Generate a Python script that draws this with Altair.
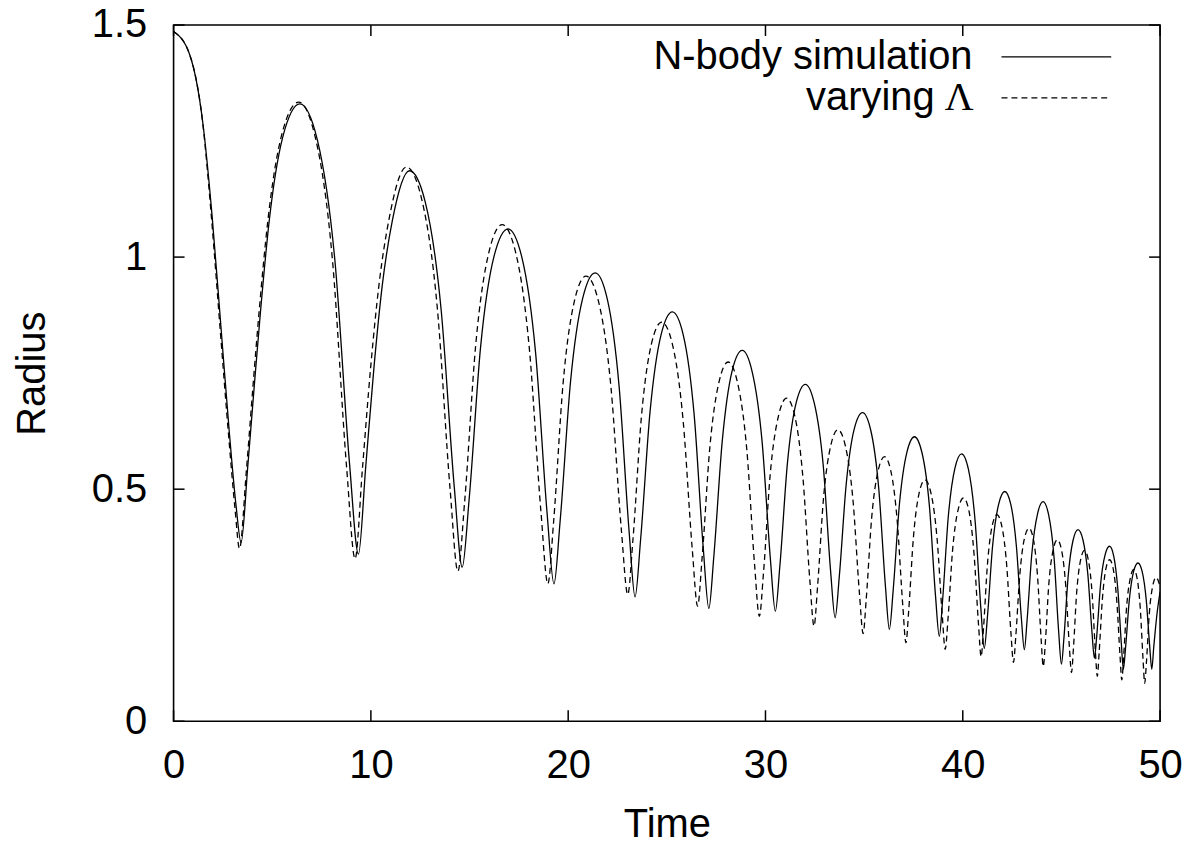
import altair as alt
import pandas as pd

SERIES = ["N-body simulation", "varying", "Λ"]
X_LABEL = "Time"
Y_LABEL = "Radius"
X_TICKS = [0, 10, 20, 30, 40, 50]
Y_TICKS = [0, 0.5, 1, 1.5]

NBODY_T = [
    0, 0.81, 1.48, 1.95, 2.40, 2.83, 3.17, 3.42,
    3.76, 4.10, 4.40, 4.85, 5.53, 6.40,
    7.29, 8.18, 8.92, 9.37,
    9.74, 10.16, 10.58, 11.09, 11.96,
    12.76, 13.56, 14.23, 14.63,
    14.98, 15.56, 16.25, 16.95,
    17.65, 18.35, 18.93, 19.28,
    19.59, 20.12, 20.74, 21.37,
    21.98, 22.58, 23.09, 23.39,
    23.67, 24.15, 24.71, 25.28,
    25.84, 26.39, 26.85, 27.13,
    27.38, 27.81, 28.31, 28.82,
    29.32, 29.83, 30.25, 30.50,
    30.73, 31.11, 31.56, 32.02,
    32.47, 32.93, 33.30, 33.53,
    33.74, 34.09, 34.50, 34.92,
    35.33, 35.74, 36.08, 36.28,
    36.47, 36.79, 37.17, 37.55,
    37.93, 38.31, 38.62, 38.81,
    38.98, 39.26, 39.60, 39.94,
    40.29, 40.63, 40.92, 41.09,
    41.25, 41.51, 41.82, 42.13,
    42.43, 42.72, 42.97, 43.12,
    43.26, 43.50, 43.79, 44.07,
    44.35, 44.63, 44.86, 45.00,
    45.13, 45.34, 45.59, 45.84,
    46.09, 46.34, 46.55, 46.67,
    46.79, 46.98, 47.21, 47.44,
    47.65, 47.86, 48.04, 48.14,
    48.25, 48.44, 48.66, 48.88,
    49.09, 49.30, 49.48, 49.58,
    49.68, 49.84, 50.0,
]
NBODY_R = [
    1.486, 1.437, 1.290, 1.090, 0.850, 0.620, 0.463, 0.385,
    0.549, 0.728, 0.880, 1.079, 1.258, 1.330,
    1.252, 0.991, 0.554, 0.360,
    0.549, 0.764, 0.940, 1.079, 1.186,
    1.118, 0.887, 0.503, 0.332,
    0.478, 0.806, 1.003, 1.061,
    1.000, 0.793, 0.449, 0.296,
    0.430, 0.732, 0.912, 0.966,
    0.910, 0.722, 0.408, 0.268,
    0.391, 0.667, 0.833, 0.882,
    0.831, 0.658, 0.371, 0.243,
    0.354, 0.604, 0.755, 0.799,
    0.754, 0.602, 0.349, 0.237,
    0.335, 0.555, 0.687, 0.726,
    0.686, 0.550, 0.324, 0.223,
    0.311, 0.510, 0.630, 0.665,
    0.628, 0.502, 0.291, 0.198,
    0.281, 0.468, 0.580, 0.613,
    0.579, 0.463, 0.269, 0.183,
    0.262, 0.438, 0.545, 0.576,
    0.542, 0.429, 0.241, 0.157,
    0.225, 0.377, 0.468, 0.495,
    0.468, 0.376, 0.222, 0.154,
    0.218, 0.361, 0.447, 0.473,
    0.445, 0.351, 0.193, 0.123,
    0.181, 0.312, 0.390, 0.413,
    0.391, 0.316, 0.191, 0.136,
    0.184, 0.293, 0.358, 0.377,
    0.356, 0.284, 0.165, 0.112,
    0.158, 0.261, 0.323, 0.341,
    0.323, 0.261, 0.158, 0.112,
    0.160, 0.230, 0.279,
]

VARY_T = [
    0, 0.81, 1.48, 1.92, 2.36, 2.80, 3.12, 3.34,
    3.69, 4.03, 4.33, 4.78, 5.46, 6.34,
    7.20, 8.06, 8.77, 9.20,
    9.57, 9.99, 10.41, 10.93, 11.80,
    12.58, 13.37, 14.02, 14.41,
    14.75, 15.31, 15.98, 16.65,
    17.35, 18.04, 18.62, 18.97,
    19.26, 19.74, 20.32, 20.90,
    21.54, 22.17, 22.70, 23.02,
    23.28, 23.71, 24.22, 24.74,
    25.29, 25.83, 26.29, 26.56,
    26.79, 27.18, 27.65, 28.11,
    28.58, 29.06, 29.45, 29.69,
    29.90, 30.24, 30.66, 31.07,
    31.49, 31.90, 32.25, 32.46,
    32.64, 32.94, 33.31, 33.67,
    34.05, 34.44, 34.76, 34.95,
    35.11, 35.38, 35.71, 36.03,
    36.36, 36.68, 36.96, 37.12,
    37.26, 37.50, 37.79, 38.08,
    38.39, 38.70, 38.96, 39.11,
    39.25, 39.48, 39.76, 40.04,
    40.31, 40.57, 40.80, 40.93,
    41.05, 41.25, 41.49, 41.73,
    41.98, 42.23, 42.44, 42.57,
    42.69, 42.89, 43.12, 43.36,
    43.58, 43.79, 43.97, 44.08,
    44.19, 44.36, 44.58, 44.79,
    45.01, 45.22, 45.40, 45.51,
    45.61, 45.77, 45.97, 46.17,
    46.37, 46.56, 46.72, 46.82,
    46.91, 47.07, 47.25, 47.44,
    47.63, 47.81, 47.97, 48.06,
    48.15, 48.30, 48.49, 48.67,
    48.84, 49.00, 49.14, 49.22,
    49.31, 49.45, 49.63, 49.80,
    50.0,
]
VARY_R = [
    1.486, 1.437, 1.288, 1.085, 0.845, 0.610, 0.455, 0.372,
    0.540, 0.725, 0.880, 1.079, 1.260, 1.334,
    1.255, 0.990, 0.547, 0.350,
    0.543, 0.763, 0.940, 1.084, 1.194,
    1.124, 0.889, 0.497, 0.323,
    0.472, 0.809, 1.010, 1.070,
    1.008, 0.799, 0.451, 0.296,
    0.429, 0.727, 0.906, 0.959,
    0.904, 0.719, 0.410, 0.273,
    0.390, 0.655, 0.813, 0.860,
    0.811, 0.646, 0.370, 0.248,
    0.353, 0.590, 0.732, 0.774,
    0.730, 0.582, 0.336, 0.226,
    0.320, 0.532, 0.658, 0.696,
    0.657, 0.524, 0.303, 0.205,
    0.290, 0.480, 0.594, 0.628,
    0.593, 0.474, 0.277, 0.189,
    0.265, 0.437, 0.540, 0.570,
    0.538, 0.430, 0.249, 0.169,
    0.239, 0.397, 0.492, 0.520,
    0.491, 0.392, 0.228, 0.155,
    0.220, 0.367, 0.455, 0.481,
    0.454, 0.361, 0.207, 0.139,
    0.200, 0.338, 0.421, 0.445,
    0.420, 0.334, 0.191, 0.127,
    0.185, 0.315, 0.393, 0.416,
    0.392, 0.312, 0.178, 0.118,
    0.173, 0.295, 0.369, 0.391,
    0.368, 0.291, 0.162, 0.105,
    0.158, 0.276, 0.347, 0.368,
    0.346, 0.273, 0.151, 0.097,
    0.147, 0.260, 0.328, 0.348,
    0.327, 0.257, 0.141, 0.089,
    0.137, 0.244, 0.308, 0.327,
    0.307, 0.241, 0.131, 0.082,
    0.128, 0.230, 0.292, 0.310,
    0.290,
]

W, H = 989, 698
FONT = "Liberation Sans"
FS = 40
TICK = 11

nbody = pd.DataFrame({"time": NBODY_T, "radius": NBODY_R})
vary = pd.DataFrame({"time": VARY_T, "radius": VARY_R})
xt = pd.DataFrame({"time": X_TICKS})
yt = pd.DataFrame({"radius": Y_TICKS})
one = pd.DataFrame({"k": [0]})

xs = alt.Scale(domain=[0, 50], nice=False, zero=False)
ys = alt.Scale(domain=[0, 1.5], nice=False, zero=False)

x_axis = alt.Axis(
    values=X_TICKS, labelExpr="'' + datum.value", grid=False, ticks=False, tickSize=0,
    domain=False, labelFont=FONT, labelFontSize=FS, labelColor="black", labelPadding=56,
    labelBaseline="alphabetic", labelFlush=False, labelOverlap=False,
    title=X_LABEL, titleFont=FONT, titleFontSize=FS, titleFontWeight="normal",
    titleColor="black", titleX=W / 2, titleY=116, titleAlign="center",
    titleBaseline="alphabetic",
)
y_axis = alt.Axis(
    values=Y_TICKS, labelExpr="'' + datum.value", grid=False, ticks=False, tickSize=0,
    domain=False, labelFont=FONT, labelFontSize=FS, labelColor="black", labelPadding=27,
    labelBaseline="middle", labelFlush=False, labelOverlap=False,
    title=Y_LABEL, titleFont=FONT, titleFontSize=FS, titleFontWeight="normal",
    titleColor="black", titleAngle=270, titleX=-129, titleY=H / 2,
    titleAlign="center", titleBaseline="alphabetic",
)

X = alt.X("time:Q", scale=xs, axis=x_axis)
Y = alt.Y("radius:Q", scale=ys, axis=y_axis)

solid = alt.Chart(nbody).mark_line(
    color="black", strokeWidth=1.3, interpolate="monotone", clip=True
).encode(x=X, y=Y)
dashed = alt.Chart(vary).mark_line(
    color="black", strokeWidth=1.3, strokeDash=[6, 4], interpolate="monotone", clip=True
).encode(x=X, y=Y)

tick_style = dict(color="black", strokeWidth=1.5)
bottom_ticks = alt.Chart(xt).mark_rule(**tick_style).encode(
    x=X, y=alt.value(H), y2=alt.value(H - TICK)
)
top_ticks = alt.Chart(xt).mark_rule(**tick_style).encode(
    x=X, y=alt.value(0), y2=alt.value(TICK)
)
left_ticks = alt.Chart(yt).mark_rule(**tick_style).encode(
    y=Y, x=alt.value(0), x2=alt.value(TICK)
)
right_ticks = alt.Chart(yt).mark_rule(**tick_style).encode(
    y=Y, x=alt.value(W), x2=alt.value(W - TICK)
)

ROW1, ROW2 = 32, 73
leg_text1 = alt.Chart(one).mark_text(
    font=FONT, fontSize=FS, align="right", baseline="middle", color="black"
).encode(x=alt.value(801), y=alt.value(ROW1), text=alt.value(SERIES[0]))
leg_text2 = alt.Chart(one).mark_text(
    font=FONT, fontSize=FS, align="right", baseline="middle", color="black"
).encode(x=alt.value(763), y=alt.value(ROW2), text=alt.value(SERIES[1]))
leg_text3 = alt.Chart(one).mark_text(
    font="Liberation Serif", fontSize=FS, align="right", baseline="middle", color="black"
).encode(x=alt.value(802), y=alt.value(ROW2), text=alt.value(SERIES[2]))
leg_line1 = alt.Chart(one).mark_rule(color="black", strokeWidth=1.3).encode(
    x=alt.value(830), x2=alt.value(940), y=alt.value(ROW1)
)
leg_line2 = alt.Chart(one).mark_rule(color="black", strokeWidth=1.3, strokeDash=[6, 4]).encode(
    x=alt.value(830), x2=alt.value(940), y=alt.value(ROW2)
)

chart = alt.layer(
    solid, dashed, bottom_ticks, top_ticks, left_ticks, right_ticks,
    leg_text1, leg_text2, leg_text3, leg_line1, leg_line2,
).properties(
    width=W, height=H,
    padding={"left": 166, "top": 16, "right": 30, "bottom": 126},
    autosize=alt.AutoSizeParams(type="none"),
    background="white",
).configure(
    font=FONT
).configure_view(
    stroke="black", strokeWidth=1.6
)

chart.save("out.html", embed_options={"renderer": "svg", "actions": False})
